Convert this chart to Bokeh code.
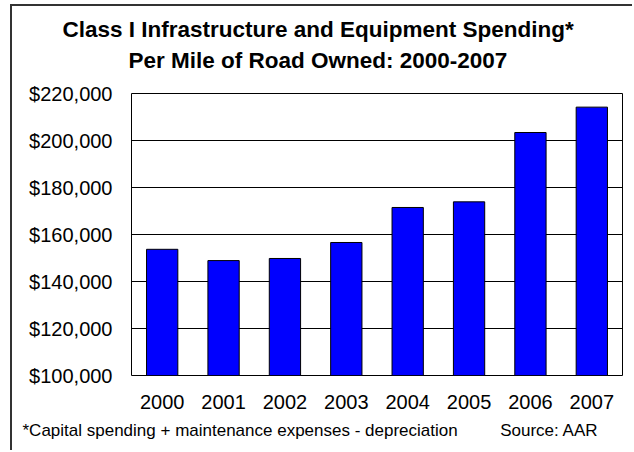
from bokeh.plotting import figure
from bokeh.models import FactorRange, Range1d, NumeralTickFormatter, FixedTicker, Title
from bokeh.embed import file_html
from bokeh.resources import INLINE

years = ["2000", "2001", "2002", "2003", "2004", "2005", "2006", "2007"]
spending = [153700, 148900, 149800, 156600, 171500, 173900, 203400, 214200]
y_ticks = [100000, 120000, 140000, 160000, 180000, 200000, 220000]
title_1 = "Class I Infrastructure and Equipment Spending*"
title_2 = "Per Mile of Road Owned: 2000-2007"
note = "*Capital spending + maintenance expenses - depreciation"
source = "Source: AAR"

FONT = "Liberation Sans"

p = figure(width=622, height=446, output_backend="svg", toolbar_location=None,
           x_range=FactorRange(*years, range_padding=0),
           y_range=Range1d(y_ticks[0], y_ticks[-1]),
           min_border_left=119, min_border_right=12, min_border_top=87, min_border_bottom=77)
p.styles = {"margin-left": "10px", "margin-top": "4px",
            "border-left": "2px solid #333333", "border-top": "2px solid #333333"}
p.x_range.factor_padding = 0
p.background_fill_color = "white"
p.border_fill_color = "white"
p.outline_line_color = "black"
p.outline_line_width = 1

p.vbar(x=years, top=spending, bottom=y_ticks[0], width=0.51,
       fill_color="#0000FF", line_color="black", line_width=1)

p.xgrid.visible = False
p.ygrid.grid_line_color = "black"
p.ygrid.grid_line_width = 1
p.yaxis.ticker = FixedTicker(ticks=y_ticks)
p.yaxis.formatter = NumeralTickFormatter(format="$0,0")

for ax in (p.xaxis[0], p.yaxis[0]):
    ax.axis_line_color = None
    ax.major_tick_line_color = None
    ax.minor_tick_line_color = None
    ax.major_tick_out = 0
    ax.major_tick_in = 0
    ax.major_label_text_font = FONT
    ax.major_label_text_font_size = "20px"
    ax.major_label_text_color = "black"
p.yaxis.major_label_standoff = 19
p.xaxis.major_label_standoff = 19

# panels above the frame, first added sits closest to the frame:
# an invisible spacer, then the subtitle, then the main title
p.add_layout(Title(text="\u00a0", text_font_size="1px", standoff=14), "above")
p.add_layout(Title(text=title_2, align="left", offset=-3, text_font=FONT,
                   text_font_style="bold", text_color="black",
                   text_font_size="22.5px", standoff=8), "above")
p.add_layout(Title(text=title_1, align="left", offset=-69, text_font=FONT,
                   text_font_style="bold", text_color="black",
                   text_font_size="22.5px", standoff=0), "above")

gap = "\u00a0" * 9
p.add_layout(Title(text=note + gap + source, align="left", offset=-109, text_font=FONT,
                   text_font_style="normal", text_color="black",
                   text_font_size="17px", standoff=14), "below")

open("out.html", "w").write(file_html(p, INLINE))
